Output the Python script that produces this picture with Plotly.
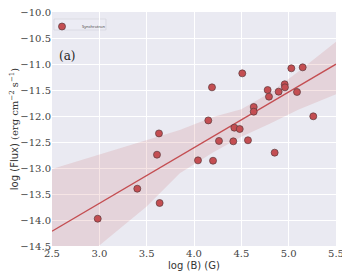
import numpy as np
import plotly.graph_objects as go

# Data
log_B = [2.983, 3.401, 3.609, 3.637, 3.630, 4.042, 4.201, 4.151, 4.190, 4.510,
         4.264, 4.415, 4.426, 4.483, 4.570, 4.631, 4.631, 4.778, 4.792, 4.852,
         4.894, 4.958, 4.961, 5.028, 5.088, 5.148, 5.260]
log_flux = [-13.975, -13.398, -12.744, -13.673, -12.335, -12.853, -12.860, -12.085, -11.449, -11.180,
            -12.480, -12.487, -12.225, -12.250, -12.467, -11.827, -11.917, -11.500, -11.628, -12.705,
            -11.532, -11.390, -11.449, -11.083, -11.538, -11.064, -12.006]
# confidence band edges
band_x = [2.5, 3.0, 3.5, 3.85, 4.2, 4.5, 4.8, 5.1, 5.5]
band_upper = [-13.02, -12.74, -12.46, -12.27, -12.02, -11.87, -11.56, -11.15, -10.57]
band_lower = [-15.25, -14.49, -13.74, -13.10, -12.70, -12.40, -12.15, -11.88, -11.58]
x_ticks = [2.5, 3.0, 3.5, 4.0, 4.5, 5.0, 5.5]
y_ticks = [-10.0, -10.5, -11.0, -11.5, -12.0, -12.5, -13.0, -13.5, -14.0, -14.5]

RED = "#C44E52"
x = np.array(log_B)
y = np.array(log_flux)
slope, intercept = np.polyfit(x, y, 1)
xs = np.array([2.5, 5.5])
yfit = intercept + slope * xs

fig = go.Figure()
fig.add_trace(go.Scatter(x=band_x + band_x[::-1], y=band_upper + band_lower[::-1],
                         fill="toself", fillcolor="rgba(196,78,82,0.15)", line=dict(width=0),
                         mode="lines", hoverinfo="skip", showlegend=False))
fig.add_trace(go.Scatter(x=xs, y=yfit, mode="lines", line=dict(color=RED, width=1.3),
                         showlegend=False))
fig.add_trace(go.Scatter(x=log_B, y=log_flux, mode="markers", name="Synchrotron",
                         marker=dict(color=RED, size=7, line=dict(color="#5a3a3c", width=0.7))))

def fmt(v):
    return ("\u2212" if v < 0 else "") + f"{abs(v):.1f}"

SERIF = "DejaVu Serif"
axis_common = dict(showgrid=True, gridcolor="white", gridwidth=1, zeroline=False, automargin=False,
                   ticklabeloverflow="allow",
                   showline=False, ticks="", tickfont=dict(family=SERIF, size=10, color="#444"))
fig.update_xaxes(range=[2.5, 5.5], tickvals=x_ticks, ticktext=[fmt(v) for v in x_ticks],
                 title=dict(text="log (B) (G)", font=dict(family="DejaVu Sans", size=10, color="#333"), standoff=3),
                 **axis_common)
fig.update_yaxes(range=[-14.5, -10.0], tickvals=y_ticks, ticktext=[fmt(v) for v in y_ticks],
                 title=dict(text="log (Flux) <span style=\"font-family:'DejaVu Serif'\">(erg cm<sup>\u22122</sup> s<sup>\u22121</sup>)</span>",
                            font=dict(family="DejaVu Sans", size=10, color="#333"), standoff=3),
                 **axis_common)
fig.add_annotation(x=0.018, y=0.812, xref="paper", yref="paper", text="(a)", showarrow=False,
                   xanchor="left", yanchor="middle", font=dict(family=SERIF, size=12, color="#222"))
# the page body adds an 8px offset, so the figure is 8px smaller than the window
fig.update_layout(width=342, height=272, margin=dict(l=44, r=14, t=4, b=34),
                  plot_bgcolor="#EAEAF2", paper_bgcolor="white",
                  legend=dict(x=0.0, y=1.0, xanchor="left", yanchor="top", bgcolor="rgba(0,0,0,0)",
                              bordercolor="rgba(0,0,0,0)", borderwidth=0, font=dict(size=4, color="#333"),
                              itemsizing="trace", itemwidth=30, tracegroupgap=0, indentation=-10))
# light legend frame as in the reference
fig.add_shape(type="rect", xref="paper", yref="paper", x0=0.007, x1=0.19, y0=0.923, y1=0.970,
              line=dict(color="#d0d0d8", width=0.6), fillcolor="rgba(236,236,244,0.9)", layer="below")
fig.write_html("out.html")
